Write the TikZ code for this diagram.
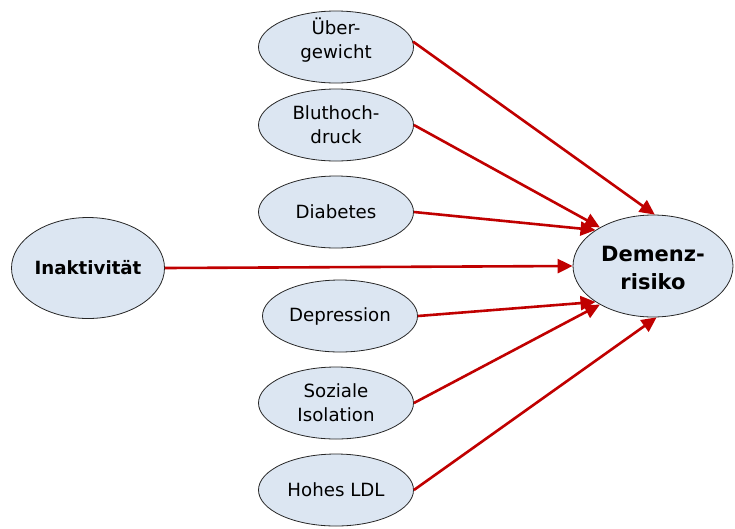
\documentclass[tikz,border=0pt]{standalone}
\usepackage{fontspec}
\setmainfont{DejaVu Sans}
\usetikzlibrary{shapes.geometric,arrows.meta}
\definecolor{fillblue}{HTML}{DCE6F2}
\definecolor{arrowred}{HTML}{C00000}
\newcommand{\shifttext}[2]{\raisebox{#1}[\height][\depth]{\begin{tabular}{@{}c@{}}#2\end{tabular}}}
\begin{document}
\begin{tikzpicture}[x=1pt,y=-1pt,
  factor/.style={ellipse, draw=black!85, line width=0.8pt, fill=fillblue,
    minimum width=155pt, minimum height=72pt, inner sep=0pt, align=center,
    font=\fontsize{18.2pt}{24pt}\selectfont},
  bigfactor/.style={factor, font=\bfseries\fontsize{18.2pt}{21pt}\selectfont},
  link/.style={draw=arrowred, line width=2.6pt, -{Triangle[length=15pt,width=14pt]}}]
\useasboundingbox (0,0) rectangle (735,528);
\node[factor] (u) at (336,47) {\shifttext{5pt}{Über-\\gewicht}};
\node[factor] (b) at (336,125) {Bluthoch-\\druck};
\node[factor] (db) at (336,212) {Diabetes};
\node[factor] (dep) at (340,316) {Depression};
\node[factor] (s) at (336,403) {Soziale\\Isolation};
\node[factor] (h) at (336,490) {Hohes LDL};
\node[bigfactor, minimum width=153pt, minimum height=101pt] (i) at (88,268) {Inaktivität};
\node[bigfactor, minimum width=160pt, minimum height=102pt,
  font=\bfseries\fontsize{21pt}{28pt}\selectfont] (d) at (653,266) {\shifttext{-4pt}{Demenz-\\risiko}};
\draw[link] (u.4) -- (d.88);
\draw[link] (b.east) -- (d.144);
\draw[link] (db.east) -- (d.148);
\draw[link] (i.east) -- (d.180);
\draw[link] (dep.east) -- (d.212);
\draw[link] (s.east) -- (d.216);
\draw[link] (h.east) -- (d.274);
\end{tikzpicture}
\end{document}
